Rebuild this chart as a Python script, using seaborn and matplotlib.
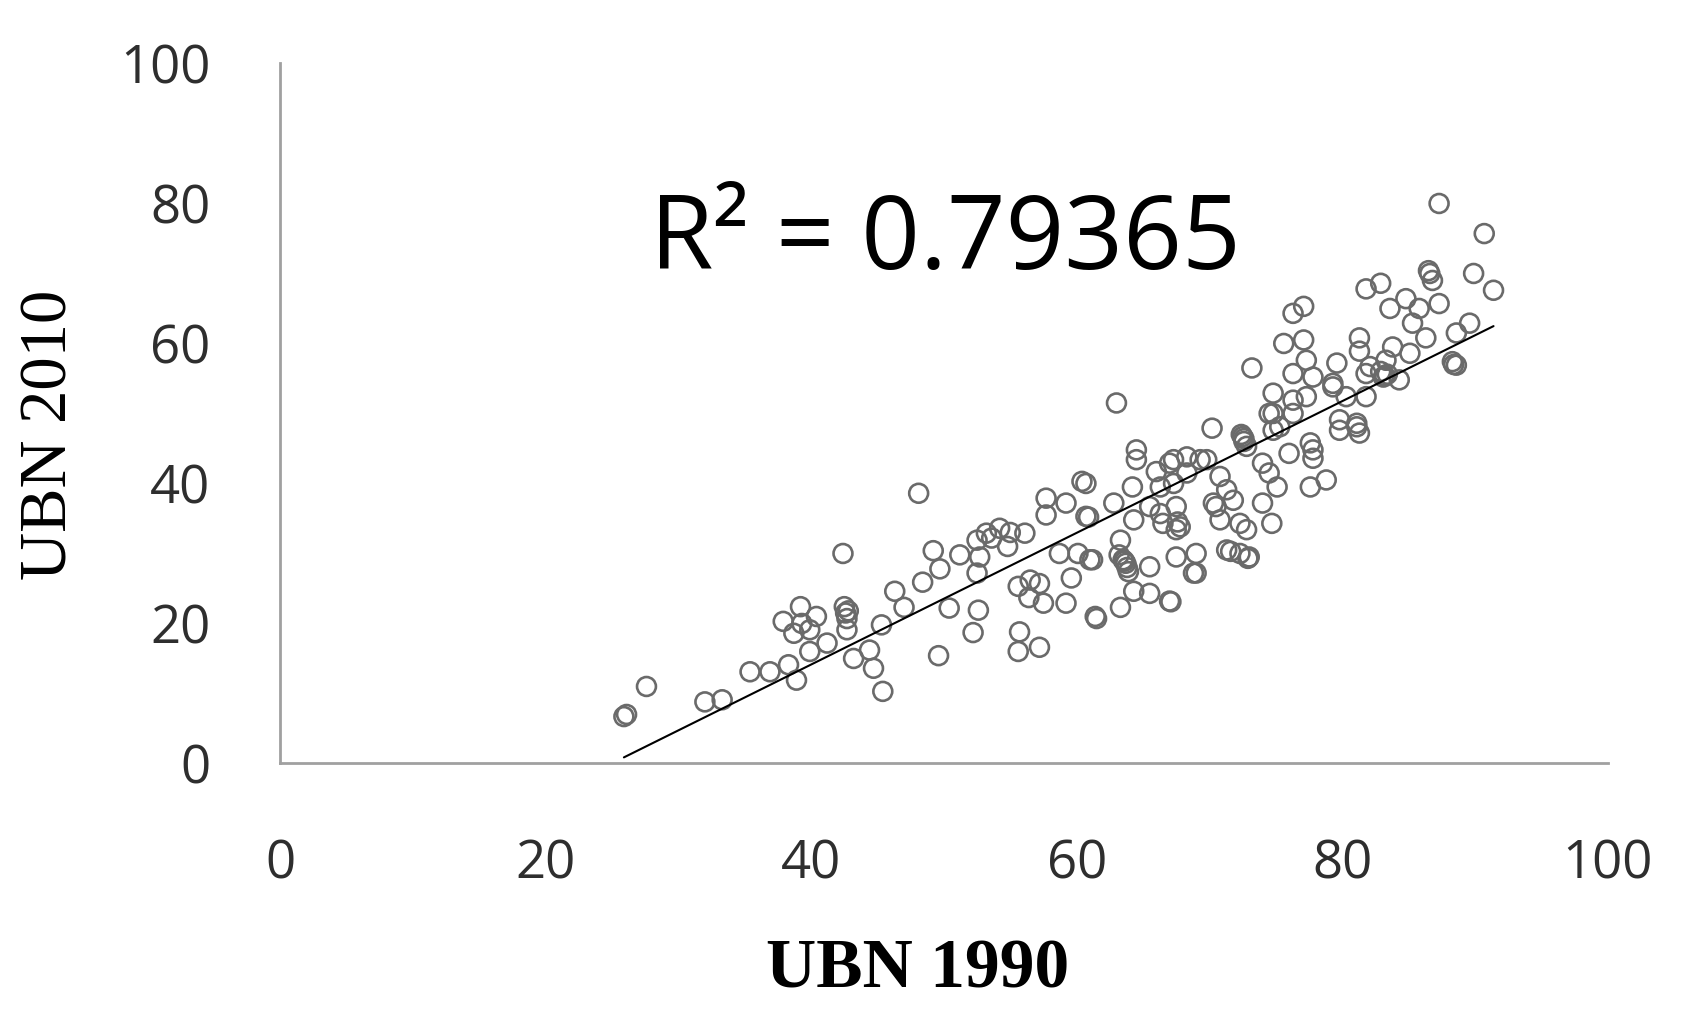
import matplotlib
matplotlib.use("Agg")
import matplotlib.pyplot as plt
import numpy as np
import seaborn as sns

# UBN 1990 (x) vs UBN 2010 (y)
ubn_1990 = [
    25.9, 26.1, 27.6, 32.0, 33.3, 35.4, 36.9, 38.3, 38.9, 37.9,
    39.2, 40.4, 38.7, 39.9, 39.9, 41.2, 42.5, 42.7, 42.7, 43.2,
    44.4, 44.7, 45.4, 45.3, 42.4, 46.3, 47.0, 42.6, 39.3, 42.8,
    48.1, 48.4, 49.2, 49.7, 49.6, 50.4, 51.2, 52.5, 52.5, 52.7,
    52.6, 52.2, 53.2, 54.2, 54.8, 56.1, 55.6, 56.4, 56.5, 57.2,
    55.7, 55.6, 57.2, 57.5, 57.7, 57.7, 59.2, 59.2, 59.6, 60.4,
    60.9, 60.1, 61.0, 61.4, 58.7, 53.6, 55.0,
    62.8, 64.2, 64.3, 63.3, 63.5, 63.7, 63.9, 63.3, 64.3, 65.5,
    65.5, 67.0, 66.3, 66.0, 67.5, 67.8, 67.5, 68.8, 64.5, 68.3,
    63.0, 64.5, 67.3, 69.8, 65.5, 66.3, 66.5, 67.5, 69.0, 69.0,
    63.2, 63.8, 60.7, 60.7, 61.2, 61.5, 67.1, 63.6, 67.6,
    70.2, 72.5, 72.6, 72.8, 74.8, 74.8, 74.8, 74.0, 71.3, 71.8,
    70.5, 72.3, 74.0, 73.2, 75.3, 76.3, 77.6, 77.8, 77.8, 79.8,
    81.1, 77.6, 78.8, 75.1, 74.7, 72.8, 72.3, 73.0, 71.3, 70.8,
    70.3, 70.8, 69.3, 67.0, 67.3, 68.3, 74.5, 76.0, 72.6, 72.4,
    89.9, 91.4, 86.6, 86.8, 87.3, 81.8, 82.9, 83.6, 84.8, 85.8,
    85.3, 86.3, 89.6, 88.6, 88.6, 88.3, 85.1, 83.8, 83.3, 81.3,
    81.3, 82.1, 84.3, 77.1, 76.3, 75.6, 77.1, 77.3, 76.3, 77.8,
    79.6, 79.3, 81.8, 83.1, 83.4, 76.3, 77.3, 79.3, 80.3, 79.8,
    81.1, 81.3, 81.8, 87.3, 90.7, 74.5, 72.9, 71.6, 86.5, 88.4,
    83.2, 82.9,
]
ubn_2010 = [
    6.7, 7.0, 11.0, 8.8, 9.1, 13.1, 13.1, 14.1, 11.9, 20.3,
    22.4, 21.0, 18.6, 19.1, 16.0, 17.2, 22.4, 20.7, 19.1, 15.0,
    16.2, 13.6, 10.3, 19.8, 30.0, 24.6, 22.3, 21.5, 20.0, 21.8,
    38.6, 25.9, 30.4, 27.8, 15.4, 22.2, 29.8, 31.9, 27.2, 29.5,
    21.9, 18.7, 32.9, 33.6, 31.0, 32.9, 25.3, 23.7, 26.2, 25.7,
    18.8, 16.0, 16.6, 22.9, 37.9, 35.5, 37.2, 22.9, 26.5, 40.3,
    35.2, 30.0, 29.1, 21.0, 30.0, 32.2, 33.0,
    37.2, 39.5, 34.8, 31.9, 29.1, 28.6, 27.4, 22.3, 24.6, 28.1,
    24.3, 23.2, 39.5, 41.7, 36.7, 33.8, 29.5, 27.2, 43.4, 41.5,
    51.5, 44.8, 43.4, 43.4, 36.7, 35.7, 34.3, 33.4, 30.0, 27.2,
    29.8, 28.0, 40.0, 35.3, 29.1, 20.7, 23.1, 28.9, 34.5,
    47.9, 46.7, 46.0, 45.3, 52.9, 50.0, 47.6, 42.9, 39.1, 37.6,
    36.7, 34.3, 37.2, 56.5, 48.1, 50.0, 45.8, 44.8, 43.6, 49.1,
    48.1, 39.5, 40.5, 39.5, 34.3, 33.4, 30.0, 29.5, 30.5, 41.0,
    37.2, 34.8, 43.4, 42.9, 40.0, 43.8, 41.5, 44.3, 46.4, 47.0,
    70.0, 67.6, 70.0, 69.0, 65.7, 67.8, 68.6, 65.0, 66.4, 65.0,
    62.9, 60.8, 62.9, 61.5, 56.9, 57.4, 58.6, 59.5, 57.6, 60.8,
    58.9, 56.7, 54.8, 65.3, 64.3, 60.0, 60.5, 57.6, 55.7, 55.2,
    57.2, 54.3, 55.7, 55.2, 55.6, 51.9, 52.4, 53.8, 52.4, 47.6,
    48.6, 47.2, 52.4, 80.0, 75.7, 50.0, 29.3, 30.3, 70.4, 57.0,
    55.4, 56.0,
]
r2_text = "R² = 0.79365"
ticks = [0, 20, 40, 60, 80, 100]


def main() -> None:
    sns.set_style("white")
    fig = plt.figure(figsize=(16.87, 10.27), dpi=100)
    ax = fig.add_axes([0.166, 0.2566, 0.787, 0.6816])

    sns.regplot(
        x=np.array(ubn_1990),
        y=np.array(ubn_2010),
        ax=ax,
        ci=None,
        scatter_kws=dict(s=185, facecolors="none", edgecolors="#6a6a6a",
                         linewidths=1.9, alpha=1),
        line_kws=dict(color="black", lw=1.5),
    )

    ax.set_xlim(0, 100)
    ax.set_ylim(0, 100)
    ax.set_xticks(ticks)
    ax.set_yticks(ticks)

    sns.despine(ax=ax)
    for side in ["left", "bottom"]:
        ax.spines[side].set_color("#a0a0a0")
        ax.spines[side].set_linewidth(2.0)

    ax.tick_params(axis="both", length=0, labelsize=38, labelcolor="#2e2e2e")
    ax.tick_params(axis="y", pad=50)
    ax.tick_params(axis="x", pad=54)
    for lab in ax.get_xticklabels() + ax.get_yticklabels():
        lab.set_family("Open Sans")

    ax.set_xlabel("UBN 1990", family="Liberation Serif", fontsize=50,
                  fontweight="bold", color="black")
    ax.set_ylabel("UBN 2010", family="Liberation Serif", fontsize=48,
                  color="black")
    ax.xaxis.set_label_coords(0.48, -0.25)
    ax.yaxis.set_label_coords(-0.15, 0.47)

    ax.text(27.9, 70.6, r2_text, family="Open Sans", fontsize=74,
            color="black", ha="left", va="baseline")

    fig.savefig("out.png", dpi=100, facecolor="white")


if __name__ == "__main__":
    main()
